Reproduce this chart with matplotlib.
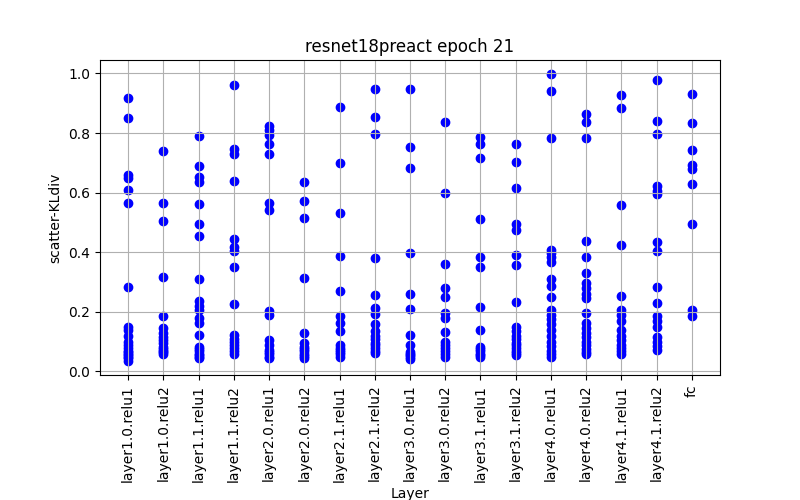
import matplotlib
matplotlib.use("Agg")
import matplotlib.pyplot as plt

layers = ["layer1.0.relu1", "layer1.0.relu2", "layer1.1.relu1", "layer1.1.relu2",
          "layer2.0.relu1", "layer2.0.relu2", "layer2.1.relu1", "layer2.1.relu2",
          "layer3.0.relu1", "layer3.0.relu2", "layer3.1.relu1", "layer3.1.relu2",
          "layer4.0.relu1", "layer4.0.relu2", "layer4.1.relu1", "layer4.1.relu2", "fc"]

# kl divergence values read per layer
l10r1 = [0.917, 0.849, 0.66, 0.65, 0.608, 0.566, 0.283, 0.15, 0.14, 0.12, 0.10, 0.09,
         0.08, 0.07, 0.065, 0.06, 0.055, 0.05, 0.045, 0.036]
l10r2 = [0.739, 0.566, 0.506, 0.317, 0.185, 0.145, 0.128, 0.115, 0.106, 0.095, 0.083,
         0.075, 0.07, 0.065, 0.06]
l11r1 = [0.791, 0.691, 0.653, 0.634, 0.563, 0.496, 0.456, 0.311, 0.235, 0.218, 0.207,
         0.179, 0.162, 0.121, 0.083, 0.075, 0.068, 0.06, 0.055, 0.05, 0.044]
l11r2 = [0.961, 0.748, 0.731, 0.640, 0.446, 0.417, 0.405, 0.351, 0.226, 0.122, 0.11,
         0.1, 0.09, 0.08, 0.07, 0.06]
l20r1 = [0.825, 0.809, 0.793, 0.762, 0.731, 0.564, 0.543, 0.204, 0.19, 0.106, 0.089,
         0.072, 0.065, 0.058, 0.05, 0.044]
l20r2 = [0.637, 0.572, 0.516, 0.313, 0.128, 0.097, 0.083, 0.075, 0.068, 0.06, 0.052, 0.046]
l21r1 = [0.887, 0.698, 0.533, 0.388, 0.271, 0.187, 0.162, 0.134, 0.089, 0.08, 0.072,
         0.065, 0.058, 0.05]
l21r2 = [0.947, 0.853, 0.797, 0.381, 0.256, 0.212, 0.193, 0.158, 0.134, 0.12, 0.108,
         0.097, 0.087, 0.078, 0.07, 0.062]
l30r1 = [0.947, 0.752, 0.681, 0.399, 0.26, 0.21, 0.121, 0.087, 0.066, 0.06, 0.054, 0.048, 0.042]
l30r2 = [0.837, 0.6, 0.362, 0.279, 0.249, 0.196, 0.179, 0.131, 0.1, 0.09, 0.08, 0.07,
         0.06, 0.05]
l31r1 = [0.787, 0.762, 0.716, 0.512, 0.384, 0.351, 0.217, 0.139, 0.083, 0.075, 0.068,
         0.06, 0.055, 0.05]
l31r2 = [0.762, 0.704, 0.615, 0.496, 0.476, 0.389, 0.358, 0.233, 0.15, 0.135, 0.12,
         0.108, 0.097, 0.087, 0.078, 0.07, 0.062, 0.055]
l40r1 = [0.997, 0.94, 0.782, 0.407, 0.397, 0.385, 0.366, 0.311, 0.285, 0.249, 0.207,
         0.19, 0.175, 0.16, 0.14, 0.12, 0.1, 0.085, 0.07, 0.06, 0.05]
l40r2 = [0.865, 0.837, 0.784, 0.437, 0.384, 0.33, 0.297, 0.28, 0.26, 0.246, 0.196,
         0.162, 0.145, 0.13, 0.115, 0.1, 0.088, 0.075, 0.065, 0.06]
l41r1 = [0.928, 0.883, 0.56, 0.425, 0.253, 0.207, 0.19, 0.17, 0.139, 0.12, 0.105,
         0.09, 0.08, 0.07, 0.06]
l41r2 = [0.978, 0.839, 0.796, 0.622, 0.606, 0.594, 0.434, 0.403, 0.282, 0.229, 0.187,
         0.17, 0.15, 0.117, 0.1, 0.085, 0.072]
fc = [0.931, 0.833, 0.742, 0.692, 0.679, 0.628, 0.496, 0.207, 0.187]

values = [l10r1, l10r2, l11r1, l11r2, l20r1, l20r2, l21r1, l21r2,
          l30r1, l30r2, l31r1, l31r2, l40r1, l40r2, l41r1, l41r2, fc]

fig = plt.figure(figsize=(8, 5), dpi=100)
for name, vals in zip(layers, values):
    plt.scatter([name] * len(vals), vals, c="blue")
plt.xticks(rotation=90)
plt.grid(True)
plt.title("resnet18preact epoch 21")
plt.xlabel("Layer")
plt.ylabel("scatter-KLdiv")
plt.subplots_adjust(bottom=0.25)
plt.savefig("out.png")
